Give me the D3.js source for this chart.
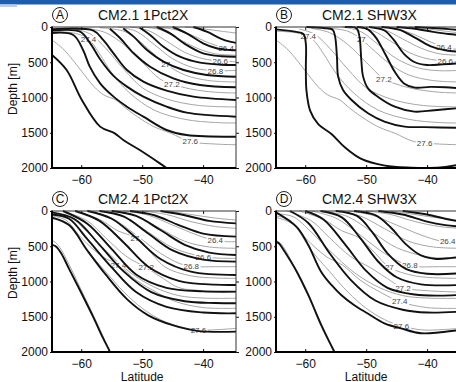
<!DOCTYPE html>
<html>
<head>
<meta charset="utf-8">
<script src="https://cdn.jsdelivr.net/npm/d3@7"></script>
<style>
  body { margin: 0; background: #fff; }
  svg { display: block; font-family: "Liberation Sans", Arial, Helvetica, sans-serif; }
</style>
</head>
<body>
<svg id="chart" width="456" height="382"></svg>
<script>
// axis values
const latDomain = [-64.8, -34.6];
const depthDomain = [0, 2000];
const latTicks = [-60, -50, -40];
const depthTicks = [0, 500, 1000, 1500, 2000];
const panelLetters = ["A", "B", "C", "D"];
const panelTitles = ["CM2.1 1Pct2X", "CM2.1 SHW3X", "CM2.4 1Pct2X", "CM2.4 SHW3X"];

// isopycnals as [latitude, depth m] points
// CM2.1 control (grey, panels A and B)
const levelsCM21 = [26.2, 26.4, 26.5, 26.6, 26.8, 27.0, 27.2, 27.3, 27.4, 27.6];
const ctrlCM21 = [
  [[-43,0],[-40,25],[-37,60],[-34.6,85]],
  [[-48,0],[-45,30],[-42,110],[-39.5,210],[-36.4,300],[-34.6,320]],
  [[-50,0],[-47,40],[-44,170],[-41,300],[-38,380],[-34.6,400]],
  [[-52,0],[-49,50],[-46,200],[-43,360],[-40,450],[-37.2,480],[-34.6,495]],
  [[-54,0],[-51,60],[-48,250],[-45,450],[-41.5,580],[-38,620],[-34.6,615]],
  [[-57,10],[-53,60],[-50.8,175],[-48.5,350],[-46.1,525],[-43,680],[-39,760],[-34.6,780]],
  [[-59,20],[-56,80],[-53,250],[-50,500],[-47.1,737],[-45.1,808],[-42,880],[-38,925],[-34.6,936]],
  [[-61,30],[-58.5,100],[-56,300],[-53,600],[-50,860],[-46,1020],[-41,1110],[-34.6,1135]],
  [[-64.8,60],[-61,90],[-58.8,175],[-57,380],[-55,650],[-52,940],[-48,1180],[-43,1310],[-38,1355],[-34.6,1362]],
  [[-64.8,184],[-62.8,326],[-60.1,610],[-57.9,846],[-56.3,964],[-54.3,1035],[-53,1130],[-50.8,1271],[-48.1,1413],[-45.3,1507],[-42.1,1626],[-38,1660],[-34.6,1670]]
];
// CM2.1 1Pct2X (black, panel A)
const pctCM21 = [
  [[-41.6,0],[-39.4,66],[-37.2,160],[-35.6,208],[-34.6,225]],
  [[-45,0],[-42.7,90],[-40,231],[-37.8,302],[-35.6,326],[-34.6,330]],
  [[-47.6,0],[-45.4,90],[-42.7,255],[-40,373],[-37,415],[-34.6,421]],
  [[-50.4,10],[-48.7,113],[-46.5,279],[-43.8,421],[-40.5,506],[-37,535],[-34.6,539]],
  [[-53.1,20],[-51.4,137],[-49.2,326],[-46.5,491],[-43.2,610],[-39.4,680],[-34.6,705]],
  [[-55.3,25],[-53.6,160],[-51.4,373],[-48.7,563],[-44.9,728],[-40.5,823],[-34.6,855]],
  [[-64.8,33],[-58,52],[-56.4,184],[-54.7,373],[-52.5,610],[-49.8,775],[-46,903],[-41.6,988],[-34.6,1035]],
  [[-64.8,52],[-60.2,66],[-58.6,222],[-56.9,457],[-54.7,694],[-52.5,846],[-49.8,988],[-46,1130],[-42.7,1215],[-34.6,1272]],
  [[-64.8,85],[-61.3,113],[-59.7,326],[-58.6,563],[-56.9,799],[-54.7,988],[-52.5,1130],[-49.8,1272],[-46,1461],[-42.7,1532],[-34.6,1556]],
  [[-64.8,397],[-62.4,610],[-59.9,1035],[-56.9,1413],[-54.5,1508],[-53.1,1603],[-50.4,1745],[-47.1,1934],[-46,2000]]
];
// CM2.1 SHW3X (black, panel B)
const shwCM21 = [
  [[-42,0],[-39,15],[-36.5,30],[-34.6,45]],
  [[-45,0],[-42,25],[-39,70],[-36.5,100],[-34.6,113]],
  [[-47.5,0],[-44.5,40],[-42,150],[-39.5,270],[-37,330],[-34.6,350]],
  [[-49.5,0],[-47,50],[-45.5,180],[-43.8,380],[-42,500],[-40,540],[-37.5,530],[-34.6,515]],
  [[-51.5,0],[-49.8,30],[-48.4,150],[-46.9,380],[-45.2,650],[-43.8,800],[-42,860],[-39.5,850],[-37,855],[-34.6,870]],
  [[-53.5,0],[-51.6,19],[-51.1,137],[-50.8,468],[-50.5,704],[-49.7,870],[-48.1,988],[-45.3,1130],[-42.1,1200],[-38.8,1180],[-34.6,1150]],
  [[-59.8,0],[-57,15],[-55.5,40],[-55.1,137],[-54.8,421],[-54.6,704],[-53.8,893],[-52.4,1035],[-49.7,1224],[-47,1342],[-43.7,1413],[-40.4,1420],[-34.6,1430]],
  [[-64.8,33],[-61.7,66],[-60.3,99],[-59.9,241],[-59.9,572],[-59.8,903],[-59.2,1186],[-57.9,1375],[-55.7,1517],[-53.5,1706],[-50.8,1871],[-46.9,1966],[-42.6,1995],[-39.8,2000],[-37,1985],[-34.6,1950]]
];
// CM2.4 control (grey, panels C and D)
const levelsCM24 = [26.2, 26.3, 26.4, 26.5, 26.6, 26.8, 27.0, 27.2, 27.3, 27.4, 27.6, 27.8];
const ctrlCM24 = [
  [[-46,0],[-42,50],[-38,100],[-34.6,128]],
  [[-50,0],[-46,50],[-42,150],[-38,220],[-34.6,246]],
  [[-53,0],[-49,60],[-45,200],[-41,340],[-38,421],[-36,435],[-34.6,435]],
  [[-55,0],[-51,70],[-47,250],[-43,430],[-39,510],[-34.6,529]],
  [[-57,0],[-53,80],[-49,300],[-45,520],[-40,648],[-37,670],[-34.6,671]],
  [[-59,0],[-55,100],[-51,340],[-47,600],[-42.8,775],[-38,790],[-34.6,789]],
  [[-61,0],[-57,120],[-54,280],[-51.2,378],[-48.5,600],[-46.2,799],[-42,920],[-38,950],[-34.6,955]],
  [[-63,0],[-59,140],[-56,380],[-52.5,650],[-49.3,804],[-46.5,960],[-44,1087],[-40,1130],[-34.6,1150]],
  [[-64.8,40],[-62,80],[-59,300],[-56,560],[-52,870],[-48,1080],[-44,1200],[-40,1235],[-34.6,1238]],
  [[-64.8,70],[-62.5,130],[-60,380],[-56.5,650],[-53.9,766],[-51,980],[-47.5,1160],[-44.5,1285],[-40,1370],[-34.6,1380]],
  [[-64.8,90],[-62,190],[-59,560],[-56,860],[-53,1150],[-50,1380],[-47,1540],[-44.2,1631],[-40.8,1687],[-37,1680],[-34.6,1664]],
  [[-64.8,420],[-64.3,440],[-63.5,520],[-62,760],[-60,1120],[-58,1480],[-56.5,1760],[-55.6,1940],[-55.3,2000]]
];
// CM2.4 1Pct2X (black, panel C)
const pctCM24 = [
  [[-47,0],[-43,60],[-39,140],[-34.6,175]],
  [[-52,0],[-48,60],[-44,200],[-40,320],[-34.6,364]],
  [[-55,0],[-51,70],[-47,270],[-43,480],[-39,590],[-34.6,624]],
  [[-57,0],[-53,80],[-49,320],[-45,560],[-40,690],[-34.6,718]],
  [[-59,0],[-55,110],[-51,380],[-47,680],[-42,860],[-34.6,907]],
  [[-61,0],[-57,140],[-53,450],[-49,790],[-44,990],[-38,1045],[-34.6,1049]],
  [[-63,0],[-59,180],[-55,540],[-51,900],[-46,1090],[-40,1140],[-34.6,1144]],
  [[-64.8,20],[-61,120],[-57,480],[-53,860],[-48.5,1150],[-43,1280],[-38,1305],[-34.6,1309]],
  [[-64.8,50],[-62,110],[-59,400],[-55,800],[-51,1150],[-46,1360],[-40,1440],[-34.6,1451]],
  [[-64.8,95],[-62,200],[-59,560],[-56,900],[-52.5,1250],[-49,1480],[-45,1620],[-41,1700],[-34.6,1711]],
  [[-64.8,480],[-64.2,500],[-63.3,600],[-62,820],[-60,1160],[-58,1510],[-56.5,1790],[-55.5,1960],[-55.3,2000]]
];
// CM2.4 SHW3X (black, panel D)
const shwCM24 = [
  [[-44,0],[-40,50],[-37,110],[-34.6,151]],
  [[-48,0],[-44,50],[-40,150],[-37,200],[-34.6,222]],
  [[-52,0],[-48.5,60],[-46,230],[-43.5,470],[-41,630],[-38.5,680],[-36,665],[-34.6,650]],
  [[-55,0],[-51.5,70],[-49,300],[-46.5,600],[-43.5,820],[-40,890],[-34.6,884]],
  [[-57.5,0],[-54,90],[-51,380],[-48,720],[-45,940],[-41,1040],[-34.6,1049]],
  [[-60,0],[-57,120],[-53.5,470],[-50,850],[-46.5,1090],[-42,1185],[-38,1200],[-34.6,1191]],
  [[-62.5,0],[-59.5,170],[-56,600],[-52.5,980],[-48.5,1270],[-44,1400],[-40,1440],[-34.6,1427]],
  [[-64.8,19],[-62.8,128],[-61.2,246],[-59.5,482],[-57.4,860],[-55.7,1049],[-54.1,1191],[-52,1333],[-49.8,1451],[-47,1593],[-44.3,1664],[-41,1734],[-37.8,1720],[-34.6,1687]],
  [[-64.8,440],[-64.3,460],[-63.5,560],[-61.7,813],[-59.5,1191],[-57.4,1616],[-55.2,2000]]
];

// contour labels on the grey lines: [level text, latitude]
const labelsA = [["27.4",-58.8],["27",-46.1],["27.2",-45.1],["27.6",-42.1],["26.8",-38],["26.6",-37.2],["26.4",-36.2]];
const labelsB = [["27.4",-59.5],["27",-50.8],["27.2",-47.1],["27.6",-40.4],["26.4",-37.2],["26.6",-37.0]];
const labelsC = [["27",-51.2],["27.4",-53.9],["27.2",-49.3],["26.8",-41.9],["26.6",-40],["26.4",-38],["27.6",-40.8]];
const labelsD = [["26.4",-36.6],["26.8",-42.8],["27",-46.2],["27.2",-44],["27.4",-44.5],["27.6",-44.2]];

const svg = d3.select("#chart");
const W = 184, H = 141;
const FONT = "'Liberation Sans', Arial, Helvetica, sans-serif";

// blue strip at the top of the page
svg.append("rect").attr("x", 0).attr("y", 0).attr("width", 456).attr("height", 4.5).attr("fill", "#1d5dad");
svg.append("rect").attr("x", 0).attr("y", 4.5).attr("width", 17).attr("height", 2.5).attr("fill", "#b3cdec");

const panels = [
  { left: 52,  top: 27,  levels: levelsCM21, ctrl: ctrlCM21, run: pctCM21, labels: labelsA },
  { left: 276, top: 27,  levels: levelsCM21, ctrl: ctrlCM21, run: shwCM21, labels: labelsB },
  { left: 52,  top: 211, levels: levelsCM24, ctrl: ctrlCM24, run: pctCM24, labels: labelsC },
  { left: 276, top: 211, levels: levelsCM24, ctrl: ctrlCM24, run: shwCM24, labels: labelsD }
];

const defs = svg.append("defs");

panels.forEach((p, i) => {
  const x = d3.scaleLinear().domain(latDomain).range([p.left, p.left + W]);
  const y = d3.scaleLinear().domain(depthDomain).range([p.top, p.top + H]);
  const line = d3.line()
    .x(d => x(d[0]))
    .y(d => y(d[1]))
    .curve(d3.curveCatmullRom.alpha(0.5));

  defs.append("clipPath").attr("id", "clip" + i)
    .append("rect").attr("x", p.left).attr("y", p.top - 1).attr("width", W).attr("height", H + 1);

  const g = svg.append("g");
  const plot = g.append("g").attr("clip-path", `url(#clip${i})`);

  const grey = plot.selectAll("path.ctrl")
    .data(p.ctrl)
    .join("path")
    .attr("class", "ctrl")
    .attr("d", line)
    .attr("fill", "none")
    .attr("stroke", "#9c9c9c")
    .attr("stroke-width", 0.9);

  // inline labels with a white gap in the grey contour
  const lab = plot.append("g");
  p.labels.forEach(([txt, lat]) => {
    const idx = p.levels.findIndex(l => String(l) === txt);
    const node = grey.nodes()[idx];
    const tx = x(lat);
    const len = node.getTotalLength();
    let best = node.getPointAtLength(0), bd = Infinity;
    for (let s = 0; s <= len; s += 0.5) {
      const pt = node.getPointAtLength(s);
      const dd = Math.abs(pt.x - tx);
      if (dd < bd) { bd = dd; best = pt; }
    }
    const t = lab.append("text")
      .attr("x", best.x).attr("y", best.y)
      .attr("dy", "0.35em")
      .attr("text-anchor", "middle")
      .attr("font-size", 8)
      .attr("fill", "#444")
      .text(txt);
    const bb = t.node().getBBox();
    lab.insert("rect", "text")
      .attr("x", bb.x - 1).attr("y", best.y - 3.5)
      .attr("width", bb.width + 2).attr("height", 7)
      .attr("fill", "#fff");
  });

  plot.selectAll("path.run")
    .data(p.run)
    .join("path")
    .attr("class", "run")
    .attr("d", line)
    .attr("fill", "none")
    .attr("stroke", "#111")
    .attr("stroke-width", 1.9)
    .attr("stroke-linejoin", "round");

  // axes
  const styleAxis = a => {
    a.select(".domain").remove();
    a.attr("font-family", FONT).attr("font-size", 12).attr("color", "#111");
  };
  g.append("g").attr("transform", `translate(${p.left},0)`)
    .call(d3.axisLeft(y).tickValues(depthTicks).tickFormat(d3.format("d")).tickSize(2).tickPadding(2))
    .call(styleAxis);
  g.append("g").attr("transform", `translate(${p.left + W},0)`)
    .call(d3.axisRight(y).tickValues(depthTicks).tickSize(3).tickFormat(""))
    .call(styleAxis);
  g.append("g").attr("transform", `translate(0,${p.top + H})`)
    .call(d3.axisBottom(x).tickValues(latTicks).tickSizeInner(-3).tickSizeOuter(0).tickPadding(7))
    .call(styleAxis);
  g.append("g").attr("transform", `translate(0,${p.top})`)
    .call(d3.axisTop(x).tickValues(latTicks).tickSize(-3).tickFormat(""))
    .call(styleAxis);

  // frame: heavy left/bottom, light top/right
  g.append("line").attr("x1", p.left).attr("x2", p.left + W).attr("y1", p.top).attr("y2", p.top)
    .attr("stroke", "#333").attr("stroke-width", 1.2);
  g.append("line").attr("x1", p.left + W).attr("x2", p.left + W).attr("y1", p.top).attr("y2", p.top + H)
    .attr("stroke", "#333").attr("stroke-width", 1);
  g.append("line").attr("x1", p.left).attr("x2", p.left).attr("y1", p.top - 0.6).attr("y2", p.top + H + 1)
    .attr("stroke", "#000").attr("stroke-width", 2);
  g.append("line").attr("x1", p.left - 1).attr("x2", p.left + W).attr("y1", p.top + H).attr("y2", p.top + H)
    .attr("stroke", "#000").attr("stroke-width", 2);

  // title with circled letter
  g.append("circle").attr("cx", p.left + 8).attr("cy", p.top - 12).attr("r", 7.5)
    .attr("fill", "none").attr("stroke", "#222").attr("stroke-width", 1);
  g.append("text").attr("x", p.left + 8).attr("y", p.top - 12).attr("dy", "0.36em")
    .attr("text-anchor", "middle").attr("font-size", 12).attr("fill", "#111")
    .text(panelLetters[i]);
  g.append("text").attr("x", p.left + 46).attr("y", p.top - 7)
    .attr("font-size", 14).attr("fill", "#111")
    .text(panelTitles[i]);

  if (i % 2 === 0) {
    g.append("text")
      .attr("transform", `translate(17,${p.top + 62}) rotate(-90)`)
      .attr("text-anchor", "middle").attr("font-size", 12).attr("fill", "#111")
      .text("Depth [m]");
  }
  if (i >= 2) {
    g.append("text").attr("x", x(-50)).attr("y", p.top + H + 28.5)
      .attr("text-anchor", "middle").attr("font-size", 12).attr("fill", "#111")
      .text("Latitude");
  }
});
</script>
</body>
</html>
